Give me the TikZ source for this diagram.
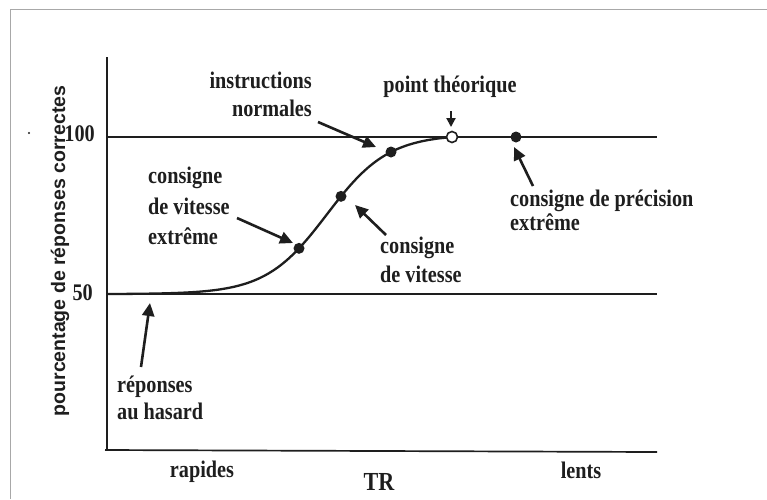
\documentclass[tikz,border=0pt]{standalone}
\usepackage{fontspec}
\setmainfont{Liberation Serif}
\newfontfamily\annfont{Liberation Serif}[FakeStretch=0.85]
\newfontfamily\labfont{Liberation Sans}
\usetikzlibrary{arrows.meta}
\definecolor{ink}{HTML}{1E1E1E}
\definecolor{frame}{HTML}{A8A8A8}
\tikzset{
  lbl/.style={inner sep=0pt, font=\annfont\fontsize{23.8}{26}\selectfont\bfseries, text=ink},
  axlbl/.style={inner sep=0pt, font=\fontsize{19.5}{22}\selectfont\labfont\bfseries, text=ink},
  bigl/.style={inner sep=0pt, font=\annfont\fontsize{26}{28}\selectfont\bfseries, text=ink},
  gline/.style={draw=ink, line width=1.7pt},
  dot/.style={circle, fill=ink, inner sep=0pt, minimum size=11pt},
  odot/.style={circle, draw=ink, fill=white, line width=1.6pt, inner sep=0pt, minimum size=11pt},
  arr/.style={draw=ink, line width=2.6pt, -{Triangle[length=13pt,width=12pt]}},
  sarr/.style={draw=ink, line width=2pt, -{Triangle[length=9pt,width=9pt]}},
  declare function={sig(\x)=294-157*(1/(1+exp(-(\x-327)/30.7))-0.000771)/0.98247;}
}
\begin{document}
\begin{tikzpicture}[x=1pt,y=-1pt]
\useasboundingbox (0,0) rectangle (767,499);
\fill[white] (0,0) rectangle (767,499);
% frame
\draw[frame, line width=1.5pt] (10.5,499) -- (10.5,9.5) -- (767,9.5);
% speck
\fill[ink] (29,133) circle (1.2pt);
% axes
\coordinate (ytop) at (107,57);
\coordinate (orig) at (107,450);
\coordinate (xend) at (657,452);
\draw[gline] (ytop) -- (orig);
\draw[gline] (105,450) -- (xend);
\coordinate (h100a) at (107,137);
\coordinate (h100b) at (657,137);
\coordinate (h50a) at (107,294);
\coordinate (h50b) at (657,294);
\draw[gline] (h100a) -- (h100b);
\draw[gline] (h50a) -- (h50b);
% curve
\draw[ink, line width=2.3pt] plot[domain=107:452, samples=140] (\x,{sig(\x)});
% dots
\node[dot] (d1) at (299,{sig(299)}) {};
\node[dot] (d2) at (341,{sig(341)}) {};
\node[dot] (d3) at (391,{sig(391)}) {};
\node[odot] (dt) at (452,137) {};
\node[dot] (d4) at (516,137) {};
% axis labels
\node[lbl, anchor=east] (l100) at (95,134) {100};
\node[lbl, anchor=east] (l50) at (93,293) {50};
\node[axlbl, rotate=90] (ylab) at (60,251) {pourcentage de réponses correctes};
\node[lbl, anchor=base] (rap) at (202,477) {rapides};
\node[bigl, anchor=base] (tr) at (379,490) {TR};
\node[lbl, anchor=base] (len) at (581,478) {lents};
% annotations
\node[lbl, anchor=base east] (in1) at (312,88) {instructions};
\node[lbl, anchor=base east] (in2) at (312,116) {normales};
\coordinate (ina) at (318,122);
\coordinate (inb) at (376,147);
\draw[arr] (ina) -- (inb);

\node[lbl, anchor=base west] (ce1) at (148,183) {consigne};
\node[lbl, anchor=base west] (ce2) at (148,214) {de vitesse};
\node[lbl, anchor=base west] (ce3) at (148,244) {extrême};
\coordinate (cea) at (237,218);
\coordinate (ceb) at (293,243);
\draw[arr] (cea) -- (ceb);

\node[lbl, anchor=base west] (cv1) at (380,253) {consigne};
\node[lbl, anchor=base west] (cv2) at (380,282) {de vitesse};
\coordinate (cva) at (386,235);
\coordinate (cvb) at (355,205);
\draw[arr] (cva) -- (cvb);

\node[lbl, anchor=base] (pt) at (450,92) {point théorique};
\coordinate (pta) at (451,111);
\coordinate (ptb) at (451,127);
\draw[sarr] (pta) -- (ptb);

\node[lbl, anchor=base west] (cp1) at (510,206) {consigne de précision};
\node[lbl, anchor=base west] (cp2) at (510,230) {extrême};
\coordinate (cpa) at (533,186);
\coordinate (cpb) at (514,147);
\draw[arr] (cpa) -- (cpb);

\node[lbl, anchor=base west] (rh1) at (117,392) {réponses};
\node[lbl, anchor=base west] (rh2) at (117,419) {au hasard};
\coordinate (rha) at (141,367);
\coordinate (rhb) at (150,303);
\draw[arr] (rha) -- (rhb);
\end{tikzpicture}
\end{document}
